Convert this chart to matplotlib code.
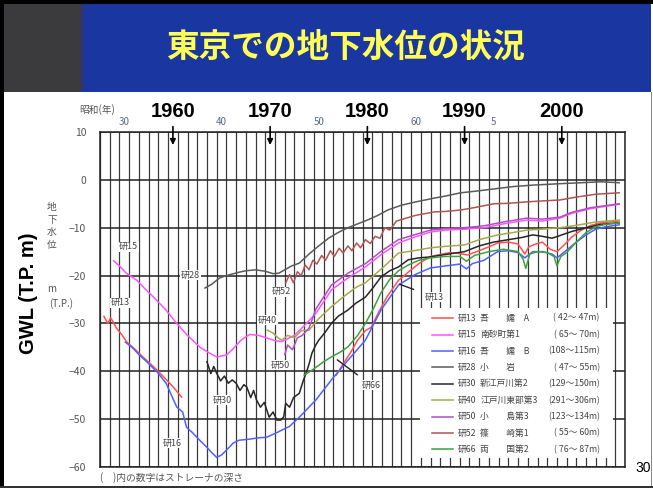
import numpy as np
import matplotlib
matplotlib.use("Agg")
import matplotlib.pyplot as plt
from matplotlib.patches import Rectangle
from matplotlib.ticker import MultipleLocator

plt.rcParams['font.family'] = ['Noto Sans CJK JP', 'DejaVu Sans']

# --- groundwater level records (year, m T.P.) ---
r13a_x = [1952.9, 1953.3, 1953.6, 1954.2, 1954.8, 1955.3, 1956.0, 1956.8, 1957.6, 1958.4, 1959.2, 1960.0, 1960.9]
r13a_y = [-28.5, -30.0, -28.8, -31.0, -32.5, -34.0, -35.2, -36.8, -38.3, -39.8, -41.5, -43.2, -45.4]

r13b_x = [1976.8, 1977.5, 1978.3, 1979.0, 1979.8, 1980.4, 1981.2, 1982.0, 1983.2, 1984.2, 1985.3,
          1986.5, 1987.5, 1988.5, 1989.5, 1990.3, 1991.5, 1992.5, 1993.4, 1994.5, 1995.5, 1996.2,
          1996.6, 1997.2, 1998.0, 1998.8, 1999.5, 2000.3, 2001.0, 2002.0, 2003.0, 2004.0, 2005.9]
r13b_y = [-40.8, -38.5, -36.0, -33.5, -31.5, -30.8, -27.5, -24.5, -21.0, -19.3, -17.5,
          -16.0, -15.6, -15.2, -15.4, -15.7, -14.8, -14.0, -13.2, -13.0, -13.4, -15.5,
          -14.0, -13.5, -13.0, -14.5, -15.0, -13.5, -12.0, -10.5, -9.5, -9.0, -8.6]

r15_x = [1953.9, 1954.5, 1955.2, 1956.3, 1957.0, 1958.0, 1959.2, 1960.4, 1961.5, 1962.8, 1963.6,
         1964.5, 1965.5, 1966.1, 1967.0, 1967.9, 1968.8, 1969.6, 1970.5, 1971.2, 1972.5, 1973.5,
         1974.7, 1975.5, 1976.3, 1978.0, 1979.8, 1981.5, 1983.2, 1984.8, 1986.5, 1988.0, 1990.0,
         1992.0, 1994.0, 1996.4, 1998.0, 1999.8, 2001.0, 2003.0, 2005.9]
r15_y = [-16.9, -18.0, -19.5, -21.0, -22.5, -24.5, -27.0, -30.0, -32.5, -35.0, -36.0,
         -37.0, -36.6, -35.5, -33.5, -32.3, -32.5, -33.0, -33.6, -33.8, -32.5, -30.5,
         -27.9, -25.5, -23.0, -20.5, -18.2, -15.5, -13.2, -12.0, -10.9, -10.5, -10.3,
         -10.0, -9.2, -8.4, -8.6, -8.0, -7.0, -6.0, -5.1]

r16_x = [1955.1, 1955.8, 1956.5, 1957.3, 1958.4, 1959.3, 1960.4, 1961.0, 1961.4, 1962.0, 1962.8,
         1963.5, 1964.0, 1964.5, 1965.0, 1965.5, 1966.2, 1966.8, 1967.8, 1968.8, 1969.6, 1970.5,
         1971.2, 1972.0, 1973.0, 1974.7, 1976.3, 1978.0, 1979.8, 1981.4, 1983.2, 1984.9, 1986.5,
         1988.0, 1989.5, 1990.2, 1990.8, 1992.0, 1993.4, 1994.5, 1995.5, 1996.2, 1997.0, 1998.0,
         1999.0, 1999.5, 2000.3, 2001.5, 2002.5, 2003.5, 2004.5, 2005.9]
r16_y = [-33.9, -35.0, -36.5, -38.0, -40.2, -42.5, -47.5, -48.5, -51.7, -52.8, -54.5,
         -55.9, -57.0, -58.0, -57.5, -56.5, -55.0, -54.4, -54.2, -53.9, -53.8, -53.0,
         -52.3, -51.5, -49.6, -46.0, -41.8, -37.7, -33.5, -27.2, -22.0, -19.8, -18.4,
         -18.0, -17.6, -18.6, -17.5, -16.8, -15.0, -14.8, -15.2, -16.3, -15.0, -15.0,
         -15.5, -16.3, -15.0, -13.0, -11.5, -10.3, -9.8, -9.4]

r28_x = [1963.3, 1964.0, 1964.8, 1965.5, 1966.8, 1967.5, 1968.5, 1969.5, 1970.3, 1970.9, 1971.5,
         1972.2, 1973.0, 1974.0, 1975.0, 1976.0, 1977.0, 1978.0, 1979.0, 1980.0, 1981.0, 1982.1,
         1983.5, 1985.0, 1986.9, 1988.0, 1989.6, 1991.0, 1993.0, 1995.0, 1997.0, 1999.8, 2002.0,
         2004.0, 2005.9]
r28_y = [-22.6, -21.8, -20.5, -20.0, -19.3, -19.0, -18.8, -19.1, -19.6, -19.5, -18.8,
         -18.0, -17.4, -15.5, -13.8, -12.2, -11.0, -10.0, -9.2, -8.4, -7.5, -6.3,
         -5.3, -4.6, -3.8, -3.4, -2.7, -2.4, -1.9, -1.4, -1.1, -0.8, -0.6,
         -0.4, -0.6]

r30_x = [1963.5, 1963.9, 1964.2, 1964.5, 1964.9, 1965.3, 1965.7, 1966.1, 1966.5, 1966.9, 1967.3,
         1967.6, 1968.0, 1968.3, 1968.6, 1969.0, 1969.4, 1969.9, 1970.3, 1970.7, 1971.1, 1971.4,
         1971.6, 1972.0, 1972.4, 1973.0, 1973.4, 1973.7, 1974.0, 1974.3, 1974.7, 1975.0, 1975.6,
         1976.3, 1977.0, 1978.0, 1978.8, 1979.8, 1980.6, 1981.4, 1982.3, 1983.2, 1984.2, 1985.3,
         1986.5, 1988.0, 1990.0, 1991.5, 1993.0, 1994.5, 1996.0, 1997.0, 1998.0, 1999.0, 2000.0,
         2001.0, 2002.5, 2004.0, 2005.9]
r30_y = [-38.0, -40.5, -39.0, -40.4, -42.0, -41.0, -42.5, -41.8, -42.5, -44.0, -42.8,
         -43.3, -45.5, -44.0, -46.0, -47.5, -46.5, -49.6, -48.5, -50.2, -50.2, -49.5,
         -46.7, -47.5, -45.5, -44.6, -42.0, -40.4, -38.5, -36.2, -34.5, -33.5, -32.0,
         -30.0, -28.5, -27.2, -25.8, -24.5, -22.5, -20.3, -19.0, -18.2, -16.7, -16.3,
         -16.1, -15.6, -15.0, -13.8, -13.0, -12.5, -12.0, -11.5, -11.8, -12.2, -11.5,
         -10.8, -10.0, -9.3, -9.0]

r40_x = [1969.7, 1970.3, 1970.8, 1971.2, 1971.8, 1972.5, 1973.2, 1974.0, 1975.0, 1976.3, 1977.5,
         1978.8, 1979.8, 1981.5, 1983.2, 1984.8, 1986.5, 1988.0, 1990.0, 1991.5, 1993.4, 1995.0,
         1996.4, 1998.0, 1999.8, 2001.5, 2003.5, 2005.9]
r40_y = [-31.4, -32.0, -33.0, -33.5, -32.5, -33.0, -31.5, -31.4, -29.0, -26.5, -24.5,
         -22.5, -21.5, -18.5, -15.3, -14.8, -14.2, -13.9, -13.6, -12.5, -11.5, -11.0,
         -10.5, -10.3, -10.0, -9.5, -8.8, -8.4]

r50_x = [1971.5, 1971.8, 1972.3, 1972.8, 1973.3, 1974.0, 1974.7, 1975.5, 1976.3, 1978.0, 1979.8,
         1981.5, 1983.2, 1984.8, 1986.5, 1988.0, 1990.0, 1992.0, 1994.0, 1996.4, 1998.0, 1999.8,
         2001.0, 2003.0, 2005.9]
r50_y = [-36.5, -34.5, -35.5, -33.0, -32.5, -31.0, -27.0, -24.5, -22.0, -19.5, -17.5,
         -14.8, -12.5, -11.5, -10.5, -10.2, -10.0, -9.6, -8.8, -8.0, -8.2, -7.8,
         -6.8, -5.8, -5.0]

r52_x = [1971.6, 1972.0, 1972.4, 1972.8, 1973.2, 1973.6, 1974.0, 1974.4, 1974.8, 1975.3,
         1975.7, 1976.2, 1976.6, 1977.1, 1977.5, 1978.0, 1978.4, 1978.9, 1979.3, 1979.8,
         1980.3, 1980.8, 1981.3, 1981.8, 1982.3, 1983.0, 1984.0, 1985.0, 1986.9, 1988.0,
         1989.6, 1991.0, 1993.0, 1994.5, 1996.4, 1998.0, 1999.8, 2001.5, 2003.5, 2005.9]
r52_y = [-21.5, -19.8, -21.5, -19.2, -20.0, -17.8, -18.8, -16.8, -17.6, -15.8,
         -16.8, -14.8, -16.0, -14.3, -15.3, -13.8, -14.8, -13.2, -14.2, -12.5,
         -13.3, -11.8, -12.2, -10.0, -10.5, -8.6, -8.0, -7.4, -6.7, -6.6,
         -6.3, -5.8, -5.0, -4.9, -4.6, -4.4, -4.2, -3.6, -3.0, -2.7]

r66_x = [1973.5, 1974.5, 1975.5, 1976.3, 1977.2, 1978.0, 1979.0, 1979.8, 1980.6, 1981.4, 1982.3,
         1983.2, 1984.2, 1985.3, 1986.5, 1988.0, 1989.5, 1990.2, 1991.0, 1992.5, 1994.0, 1995.5,
         1996.0, 1996.3, 1996.7, 1997.5, 1998.5, 1999.2, 1999.5, 1999.9, 2000.5, 2001.5, 2002.5,
         2003.5, 2004.5, 2005.9]
r66_y = [-40.8, -39.5, -38.0, -37.0, -36.0, -34.9, -32.5, -30.0, -27.0, -23.6, -20.8,
         -19.0, -17.8, -16.8, -16.3, -16.0, -16.0, -17.0, -15.8, -15.0, -14.5, -15.0,
         -16.5, -18.5, -15.5, -15.0, -15.2, -16.0, -18.0, -16.0, -15.2, -13.0, -11.0,
         -9.8, -9.3, -9.0]

wells = ["研13", "研15", "研16", "研28", "研30", "研40", "研50", "研52", "研66"]
names = ["吾　　嬬　A", "南砂町第1", "吾　　嬬　B", "小　　岩", "新江戸川第2",
         "江戸川東部第3", "小　　島第3", "篠　　崎第1", "両　　国第2"]
depths = ["( 42～ 47m)", "( 65～ 70m)", "(108～115m)", "( 47～ 55m)", "(129～150m)",
          "(291～306m)", "(123～134m)", "( 55～ 60m)", "( 76～ 87m)"]
colors = ["#ff5050", "#ff55ff", "#5060ff", "#5a5a5a", "#262626",
          "#a8a850", "#b050c0", "#b05555", "#40a040"]

decade_years = [1960, 1970, 1980, 1990, 2000]
showa_pos = [1955, 1965, 1975, 1985, 1993]
showa_lab = ["30", "40", "50", "60", "5"]

# --- figure / slide frame ---
W, H = 653, 488
fig = plt.figure(figsize=(W / 100, H / 100), dpi=100)
fig.patch.set_facecolor("white")


def fx(px):
    return px / W


def fy(py):
    return 1 - py / H


def band(x0, y0, x1, y1, color):
    fig.add_artist(Rectangle((fx(x0), fy(y1)), fx(x1) - fx(x0), fy(y0) - fy(y1),
                             transform=fig.transFigure, facecolor=color, lw=0, zorder=-5))


band(0, 0, W, 4, "black")
band(0, 0, 4, H, "black")
band(4, 4, 651, 92, "#1a36a0")
band(4, 4, 80, 92, "#3b3a3c")
band(80, 4, 84, 92, "#2e3670")
band(650.5, 92, 652, H, "#888888")
band(0, 486, W, H, "#333333")

fig.text(fx(345), fy(47), "東京での地下水位の状況", ha="center", va="center",
         fontsize=23.5, fontweight="bold", color="#ffff55")
fig.text(fx(643), fy(468), "30", ha="center", va="center", fontsize=10,
         family="Liberation Sans", color="black")
fig.text(fx(29), fy(293), "GWL (T.P. m)", rotation=90, ha="center", va="center",
         fontsize=14.5, fontweight="bold", family="Liberation Sans")
fig.text(fx(52), fy(226), "地\n下\n水\n位", ha="center", va="center", fontsize=7,
         color="#555555", linespacing=1.3)
fig.text(fx(52), fy(289), "m", ha="center", va="center", fontsize=7, color="#555555")
fig.text(fx(61), fy(304), "(T.P.)", ha="center", va="center", fontsize=7, color="#555555")
fig.text(fx(97), fy(110), "昭和(年)", ha="center", va="center", fontsize=7, color="#555555")
fig.text(fx(100), fy(478), "(　)内の数字はストレーナの深さ", ha="left", va="center",
         fontsize=7, color="#555555")

# --- chart ---
ax = fig.add_axes([fx(100), fy(467), fx(625) - fx(100), fy(132) - fy(467)])
ax.set_xlim(1952.5, 2006.5)
ax.set_ylim(-60, 10)
ax.set_axisbelow(True)
ax.set_xticks([])
ax.xaxis.set_minor_locator(MultipleLocator(1, offset=0.5))
ax.tick_params(axis="x", which="minor", length=0)
ax.grid(axis="x", which="minor", color="#3a3a3a", lw=0.9)
ax.set_yticks(range(-60, 11, 10))
ax.grid(axis="y", which="major", color="#222222", lw=1.1)
ax.tick_params(axis="y", length=0, pad=10, labelsize=7.5, labelcolor="#555555")
for s in ax.spines.values():
    s.set_color("#222222")
    s.set_linewidth(1.1)

series = [
    (r13a_x, r13a_y, colors[0]), (r13b_x, r13b_y, colors[0]),
    (r15_x, r15_y, colors[1]), (r16_x, r16_y, colors[2]),
    (r28_x, r28_y, colors[3]), (r30_x, r30_y, colors[4]),
    (r40_x, r40_y, colors[5]), (r50_x, r50_y, colors[6]),
    (r52_x, r52_y, colors[7]), (r66_x, r66_y, colors[8]),
]
for xs, ys, c in series:
    ax.plot(xs, ys, color=c, lw=1.1, zorder=2)

# curve labels
lab_kw = dict(ha="center", va="center", fontsize=6.5, color="#444444", zorder=4,
              bbox=dict(facecolor="white", edgecolor="none", pad=0.6))
for txt, x, y in [("研15", 1955.4, -14.0), ("研28", 1961.8, -19.9), ("研13", 1954.6, -25.7),
                  ("研16", 1959.9, -55.0), ("研30", 1965.1, -46.0), ("研52", 1971.2, -23.4),
                  ("研40", 1969.7, -29.3), ("研50", 1971.0, -38.7)]:
    ax.text(x, y, txt, **lab_kw)
ax.annotate("研66", xy=(1976.9, -37.6), xytext=(1980.4, -42.9), arrowprops=dict(
    arrowstyle="-", color="#222222", lw=1.0, shrinkA=6, shrinkB=0), **lab_kw)
ax.annotate("研13", xy=(1983.3, -21.8), xytext=(1986.9, -24.5), arrowprops=dict(
    arrowstyle="-", color="#222222", lw=1.0, shrinkA=8, shrinkB=0), **lab_kw)

# legend block
ax.add_patch(Rectangle((1985.4, -58.1), 19.9, 31.3, facecolor="white", edgecolor="none", zorder=1))
row0, step = -28.9, 3.43
for i, (w, n, d, c) in enumerate(zip(wells, names, depths, colors)):
    yy = row0 - i * step
    ax.plot([1986.6, 1988.8], [yy, yy], color=c, lw=1.1, zorder=3)
    ax.text(1989.3, yy, w, ha="left", va="center", fontsize=6.3, color="#444444", zorder=3)
    ax.text(1991.6, yy, n, ha="left", va="center", fontsize=6.3, color="#444444", zorder=3)
    ax.text(2003.9, yy, d, ha="right", va="center", fontsize=6.3, color="#444444", zorder=3)

# top annotations: decade arrows and Showa year labels
for yr in decade_years:
    ax.annotate("", xy=(yr, 6.7), xytext=(yr, 11.7), annotation_clip=False,
                arrowprops=dict(arrowstyle="-|>", color="black", lw=1.2, mutation_scale=8))
    ax.text(yr, 14.2, str(yr), ha="center", va="center", fontsize=14.5,
            fontweight="bold", family="Liberation Sans", clip_on=False)
for p, s in zip(showa_pos, showa_lab):
    ax.text(p, 12.1, s, ha="center", va="center", fontsize=7, color="#5a6a88", clip_on=False)

fig.savefig("out.png", dpi=100)
